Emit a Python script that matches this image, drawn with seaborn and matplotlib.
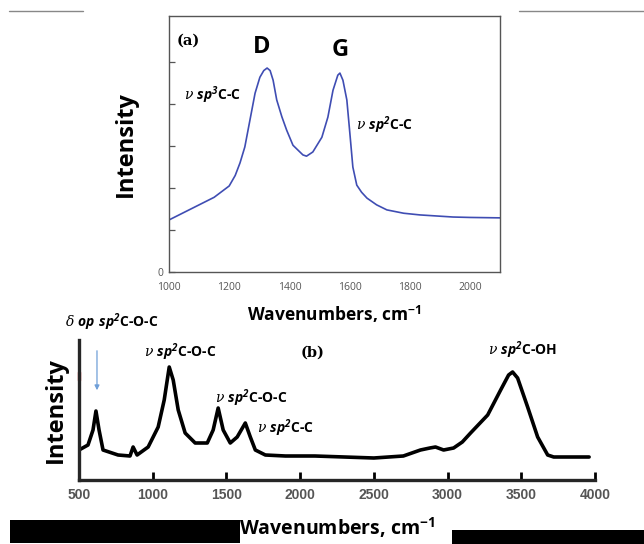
import numpy as np
import pandas as pd
import matplotlib
matplotlib.use('agg')
import matplotlib.pyplot as plt
import seaborn as sns

# (a) Raman spectrum (intensity in tick units)
raman_wn = [1000, 1050, 1100, 1150, 1200, 1220, 1236, 1252, 1269, 1286, 1302, 1315, 1326,
            1336, 1346, 1358, 1375, 1391, 1412, 1445, 1457, 1478, 1508, 1528, 1545,
            1561, 1568, 1578, 1591, 1601, 1611, 1624, 1640, 1658, 1690, 1724, 1780,
            1834, 1900, 1944, 2000, 2100]
raman_int = [1.24, 1.42, 1.60, 1.78, 2.05, 2.30, 2.60, 2.98, 3.62, 4.26, 4.64, 4.80, 4.86,
             4.80, 4.57, 4.10, 3.70, 3.38, 3.02, 2.79, 2.76, 2.86, 3.21, 3.69, 4.33,
             4.69, 4.74, 4.57, 4.10, 3.31, 2.50, 2.07, 1.90, 1.76, 1.60, 1.48, 1.40,
             1.36, 1.33, 1.31, 1.30, 1.29]

# (b) IR spectrum
ir_wn = [500, 561, 595, 615, 636, 663, 765, 846, 867, 894, 969, 1037, 1078, 1112, 1139,
         1173, 1220, 1288, 1370, 1410, 1444, 1478, 1526, 1573, 1628, 1662, 1696, 1764,
         1900, 2100, 2300, 2500, 2700, 2816, 2880, 2918, 2973, 3041, 3100, 3156, 3272,
         3360, 3414, 3441, 3475, 3543, 3611, 3679, 3720, 3850, 3960]
ir_int = [30, 35, 50, 69, 50, 30, 25, 24, 33, 25, 33, 53, 80, 113, 100,
          70, 47, 37, 37, 50, 72, 50, 37, 43, 57, 43, 30, 25,
          24, 24, 23, 22, 24, 30, 32, 33, 30, 32, 38, 47, 65,
          90, 105, 108, 102, 73, 43, 25, 23, 23, 23]

top_xticks = [1000, 1200, 1400, 1600, 1800, 2000]
bot_xticks = [500, 1000, 1500, 2000, 2500, 3000, 3500, 4000]

sns.set_style('white')
plt.rcParams['font.family'] = ['Open Sans', 'DejaVu Sans']
plt.rcParams['text.color'] = 'black'
plt.rcParams['axes.labelcolor'] = 'black'
plt.rcParams['mathtext.fontset'] = 'custom'
plt.rcParams['mathtext.it'] = 'DejaVu Serif:italic'        # greek letters
plt.rcParams['mathtext.sf'] = 'Open Sans:italic:bold'      # "sp", "op"
plt.rcParams['mathtext.rm'] = 'Open Sans:bold'
plt.rcParams['mathtext.bf'] = 'Open Sans:bold'


def lab(greek, mode, rest):
    return r'$\%s\ \mathsf{%s}^{\mathsf{%s}}$%s' % (greek, mode, rest[0], rest[1:])


fig = plt.figure(figsize=(6.44, 5.44), dpi=100)

### panel (a)
ax1 = fig.add_axes([169 / 644, 1 - 272 / 544, 331 / 644, 256 / 544])
raman = pd.DataFrame({'wn': raman_wn, 'I': raman_int})
sns.lineplot(data=raman, x='wn', y='I', ax=ax1, color='#3f4db3', lw=1.2,
             solid_joinstyle='round')
ax1.set_xlim(1000, 2100)
ax1.set_ylim(0, 6.1)
ax1.set_xticks(top_xticks)
ax1.set_yticks([0, 1, 2, 3, 4, 5])
ax1.set_yticklabels(['0', '', '', '', '', ''])
ax1.tick_params(axis='y', left=True, direction='in', length=4, width=0.9,
                colors='#555555', labelsize=7.5, pad=4)
ax1.tick_params(axis='x', bottom=True, direction='in', length=0, colors='#555555',
                labelsize=7.5, pad=7)
for s in ax1.spines.values():
    s.set_color('#555555')
    s.set_linewidth(1.0)
ax1.set_xlabel('Wavenumbers, cm$^{-1}$', fontsize=12.5, fontweight='bold', labelpad=8)
ax1.set_ylabel('Intensity', fontsize=17, fontweight='bold', labelpad=14)
ax1.text(1027, 5.52, '(a)', family='DejaVu Serif', fontsize=10.5, fontweight='bold',
         ha='left', va='center')
ax1.text(1309, 5.36, 'D', fontsize=17, fontweight='bold', ha='center', va='center')
ax1.text(1568, 5.29, 'G', fontsize=17, fontweight='bold', ha='center', va='center')
ax1.text(1050, 4.21, lab('nu', 'sp', '3C-C'), fontsize=10, fontweight='bold',
         ha='left', va='center')
ax1.text(1621, 3.5, lab('nu', 'sp', '2C-C'), fontsize=10, fontweight='bold',
         ha='left', va='center')

### panel (b)
ax2 = fig.add_axes([79 / 644, 1 - 480 / 544, 516 / 644, 140 / 544])
ir = pd.DataFrame({'wn': ir_wn, 'I': ir_int})
sns.lineplot(data=ir, x='wn', y='I', ax=ax2, color='black', lw=2.6,
             solid_joinstyle='round')
ax2.set_xlim(500, 4000)
ax2.set_ylim(0, 140)
ax2.set_xticks(bot_xticks)
ax2.set_yticks([])
ax2.tick_params(axis='x', bottom=True, direction='in', length=6, width=2, colors='black',
                labelcolor='#555555', labelsize=10, pad=6)
for t in ax2.get_xticklabels():
    t.set_fontweight('bold')
    t.set_family('Liberation Sans')
ax2.spines['top'].set_visible(False)
ax2.spines['right'].set_visible(False)
ax2.spines['left'].set_linewidth(2.4)
ax2.spines['bottom'].set_linewidth(2.4)
ax2.set_xlabel('Wavenumbers, cm$^{-1}$', fontsize=14, fontweight='bold', labelpad=10)
ax2.set_ylabel('Intensity', fontsize=17, fontweight='bold', labelpad=8)
ax2.text(405, 158, lab('delta', r'op\ sp', '2C-O-C'), fontsize=10, fontweight='bold',
         ha='left', va='center', clip_on=False)
ax2.annotate('', xy=(622, 87), xytext=(622, 132),
             arrowprops=dict(arrowstyle='-|>', color='#6f9fd8', lw=0.9,
                             mutation_scale=7))
ax2.text(940, 128, lab('nu', 'sp', '2C-O-C'), fontsize=10, fontweight='bold',
         ha='left', va='center')
ax2.text(2001, 127, '(b)', family='DejaVu Serif', fontsize=10.5, fontweight='bold',
         ha='left', va='center')
ax2.text(1424, 82, lab('nu', 'sp', '2C-O-C'), fontsize=10, fontweight='bold',
         ha='left', va='center')
ax2.text(1709, 52, lab('nu', 'sp', '2C-C'), fontsize=10, fontweight='bold',
         ha='left', va='center')
ax2.text(3272, 130, lab('nu', 'sp', '2C-OH'), fontsize=10, fontweight='bold',
         ha='left', va='center')
ax2.plot([500, 500], [100, 108], color='#d42020', lw=2.4, clip_on=False)

### decorations of the source figure (black bars, gray rules)
fig.add_artist(plt.Rectangle((10 / 644, 1 - 543 / 544), 230 / 644, 23 / 544,
                             transform=fig.transFigure, color='black', lw=0))
fig.add_artist(plt.Rectangle((452 / 644, 0), 192 / 644, 14 / 544,
                             transform=fig.transFigure, color='black', lw=0))
fig.add_artist(plt.Line2D([9 / 644, 83 / 644], [1 - 11 / 544] * 2,
                          transform=fig.transFigure, color='#888888', lw=1))
fig.add_artist(plt.Line2D([519 / 644, 1], [1 - 11 / 544] * 2,
                          transform=fig.transFigure, color='#888888', lw=1))

plt.savefig('out.png', dpi=100)
